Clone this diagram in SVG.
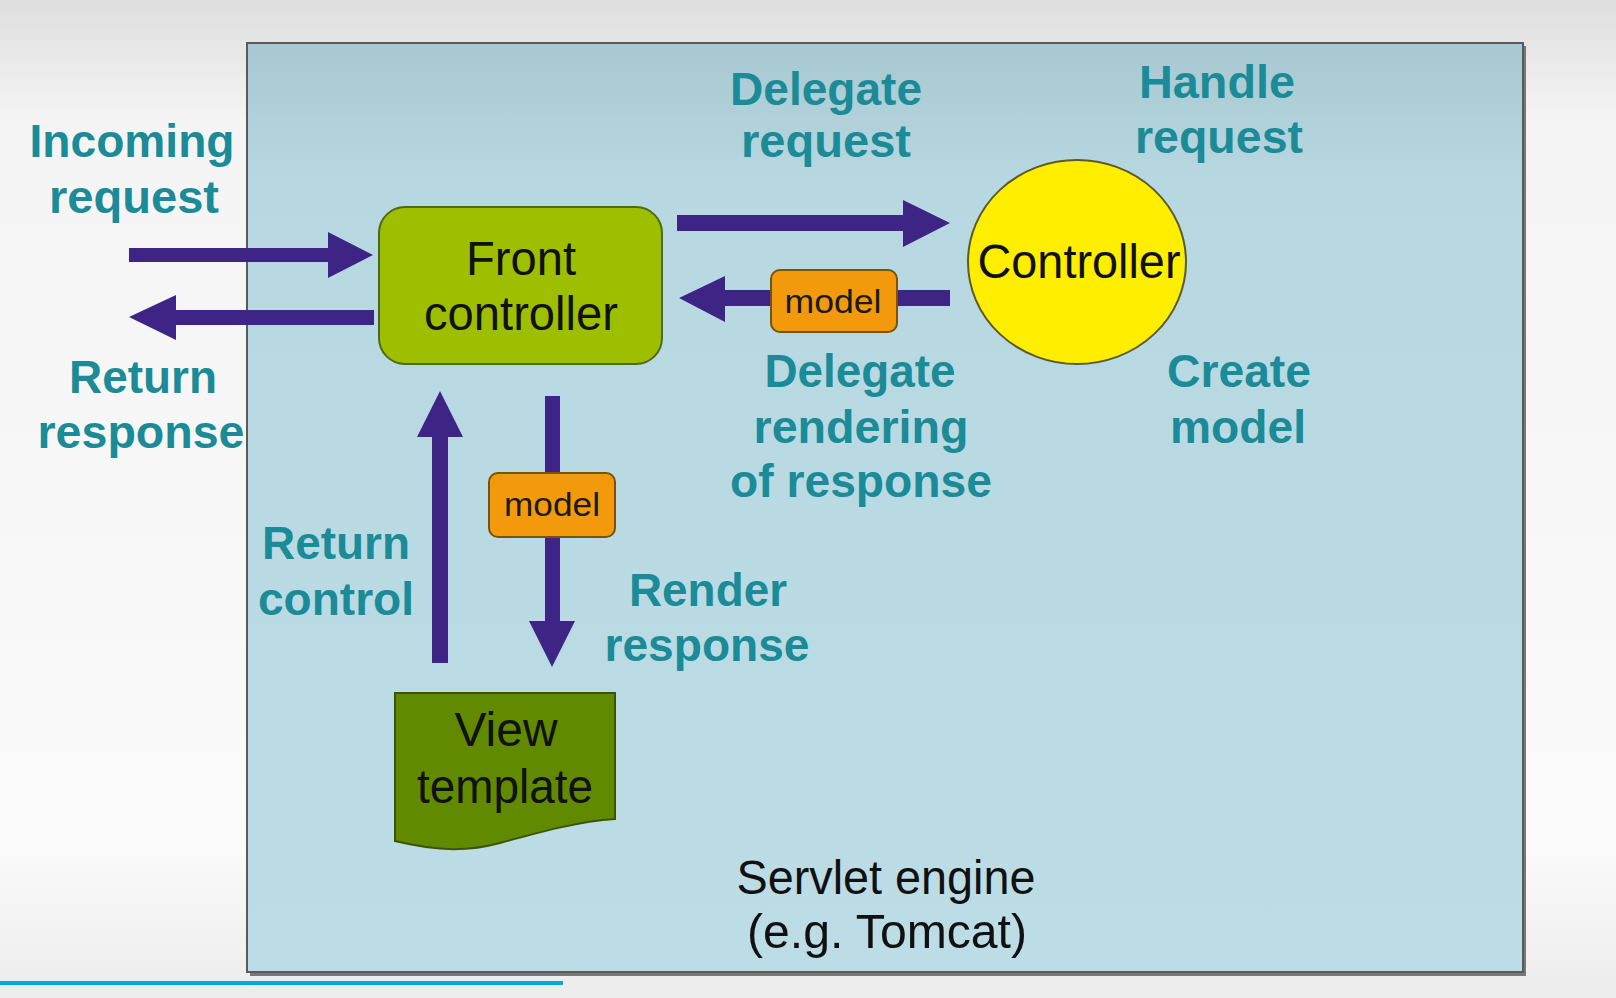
<svg xmlns="http://www.w3.org/2000/svg" width="1616" height="998" viewBox="0 0 1616 998">
<style>
.lbl{font-family:"Liberation Sans",Arial,sans-serif;font-weight:bold;font-size:46px;fill:#1a8b97;text-anchor:middle}
.nt{font-family:"Liberation Sans",Arial,sans-serif;font-size:48px;fill:#111;text-anchor:middle}
.mt{font-family:"Liberation Sans",Arial,sans-serif;font-size:34px;fill:#1a1a1a;text-anchor:middle}
.arr{fill:#3d2485}
.model{fill:#f39a0c;stroke:#7a5200;stroke-width:2}
</style>
<defs>
<linearGradient id="page" x1="0" y1="0" x2="0" y2="1">
<stop offset="0" stop-color="#dedede"/>
<stop offset="0.12" stop-color="#f4f4f4"/>
<stop offset="0.85" stop-color="#fafafa"/>
<stop offset="1" stop-color="#ececec"/>
</linearGradient>
<linearGradient id="box" x1="0" y1="0" x2="0" y2="1">
<stop offset="0" stop-color="#a8c8d1"/>
<stop offset="0.15" stop-color="#b7d8e1"/>
<stop offset="1" stop-color="#bddde6"/>
</linearGradient>
</defs>
<rect x="0" y="0" width="1616" height="998" fill="url(#page)"/>
<rect x="0" y="981" width="563" height="4" fill="#00a8e8"/>

<g id="servlet-engine">
<rect x="250" y="46" width="1276" height="930" fill="#777"/>
<rect x="247" y="43" width="1276" height="929" fill="url(#box)" stroke="#5a5a5a" stroke-width="2"/>
<text class="nt" x="886" y="894" textLength="299" lengthAdjust="spacingAndGlyphs">Servlet engine</text>
<text class="nt" x="887" y="948" textLength="280" lengthAdjust="spacingAndGlyphs">(e.g. Tomcat)</text>
</g>

<g id="connectors">
<!-- incoming request -->
<path class="arr" d="M129 248 H328 V232 L373 255 L328 278 V262 H129 Z"/>
<!-- return response -->
<path class="arr" d="M374 310 H176 V295 L129 317 L176 340 V325 H374 Z"/>
<!-- delegate request -->
<path class="arr" d="M677 215 H903 V200 L950 223 L903 247 V231 H677 Z"/>
<!-- delegate rendering -->
<path class="arr" d="M950 290 H725 V276 L679 298 L725 322 V306 H950 Z"/>
<!-- return control (up) -->
<path class="arr" d="M432 663 V437 H417 L440 391 L463 437 H448 V663 Z"/>
<!-- render response (down) -->
<path class="arr" d="M545 396 V621 H529 L552 667 L575 621 H560 V396 Z"/>
</g>

<g id="front-controller">
<rect x="379" y="207" width="283" height="157" rx="26" ry="26" fill="#9dbf00" stroke="#4d6b14" stroke-width="2"/>
<text class="nt" x="521" y="275" textLength="110" lengthAdjust="spacingAndGlyphs">Front</text>
<text class="nt" x="521" y="330" textLength="194" lengthAdjust="spacingAndGlyphs">controller</text>
</g>

<g id="controller">
<ellipse cx="1077" cy="262" rx="109" ry="102" fill="#ffee00" stroke="#5c5a2a" stroke-width="2"/>
<text class="nt" x="1079" y="278" textLength="203" lengthAdjust="spacingAndGlyphs">Controller</text>
</g>

<g id="model-1">
<rect class="model" x="771" y="270" width="126" height="62" rx="9" ry="9"/>
<text class="mt" x="833" y="313" textLength="97" lengthAdjust="spacingAndGlyphs">model</text>
</g>

<g id="model-2">
<rect class="model" x="489" y="473" width="126" height="64" rx="9" ry="9"/>
<text class="mt" x="552" y="516" textLength="96" lengthAdjust="spacingAndGlyphs">model</text>
</g>

<g id="view-template">
<path d="M395 693 H615 V819 C580 821 540 832 500 843 C470 851 440 852 395 841 Z" fill="#628a00" stroke="#3b5400" stroke-width="2"/>
<text class="nt" x="506" y="746" textLength="103" lengthAdjust="spacingAndGlyphs">View</text>
<text class="nt" x="505" y="803" textLength="176" lengthAdjust="spacingAndGlyphs">template</text>
</g>

<g id="labels">
<text class="lbl" x="132" y="157" textLength="205" lengthAdjust="spacingAndGlyphs">Incoming</text>
<text class="lbl" x="134" y="213" textLength="170" lengthAdjust="spacingAndGlyphs">request</text>
<text class="lbl" x="143" y="393" textLength="148" lengthAdjust="spacingAndGlyphs">Return</text>
<text class="lbl" x="141" y="448" textLength="207" lengthAdjust="spacingAndGlyphs">response</text>
<text class="lbl" x="826" y="105" textLength="192" lengthAdjust="spacingAndGlyphs">Delegate</text>
<text class="lbl" x="826" y="157" textLength="170" lengthAdjust="spacingAndGlyphs">request</text>
<text class="lbl" x="1217" y="98" textLength="156" lengthAdjust="spacingAndGlyphs">Handle</text>
<text class="lbl" x="1219" y="153" textLength="168" lengthAdjust="spacingAndGlyphs">request</text>
<text class="lbl" x="860" y="387" textLength="191" lengthAdjust="spacingAndGlyphs">Delegate</text>
<text class="lbl" x="861" y="443" textLength="215" lengthAdjust="spacingAndGlyphs">rendering</text>
<text class="lbl" x="861" y="497" textLength="262" lengthAdjust="spacingAndGlyphs">of response</text>
<text class="lbl" x="1239" y="387" textLength="144" lengthAdjust="spacingAndGlyphs">Create</text>
<text class="lbl" x="1238" y="443" textLength="136" lengthAdjust="spacingAndGlyphs">model</text>
<text class="lbl" x="336" y="559" textLength="148" lengthAdjust="spacingAndGlyphs">Return</text>
<text class="lbl" x="336" y="615" textLength="156" lengthAdjust="spacingAndGlyphs">control</text>
<text class="lbl" x="708" y="606" textLength="158" lengthAdjust="spacingAndGlyphs">Render</text>
<text class="lbl" x="707" y="661" textLength="205" lengthAdjust="spacingAndGlyphs">response</text>
</g>
</svg>
